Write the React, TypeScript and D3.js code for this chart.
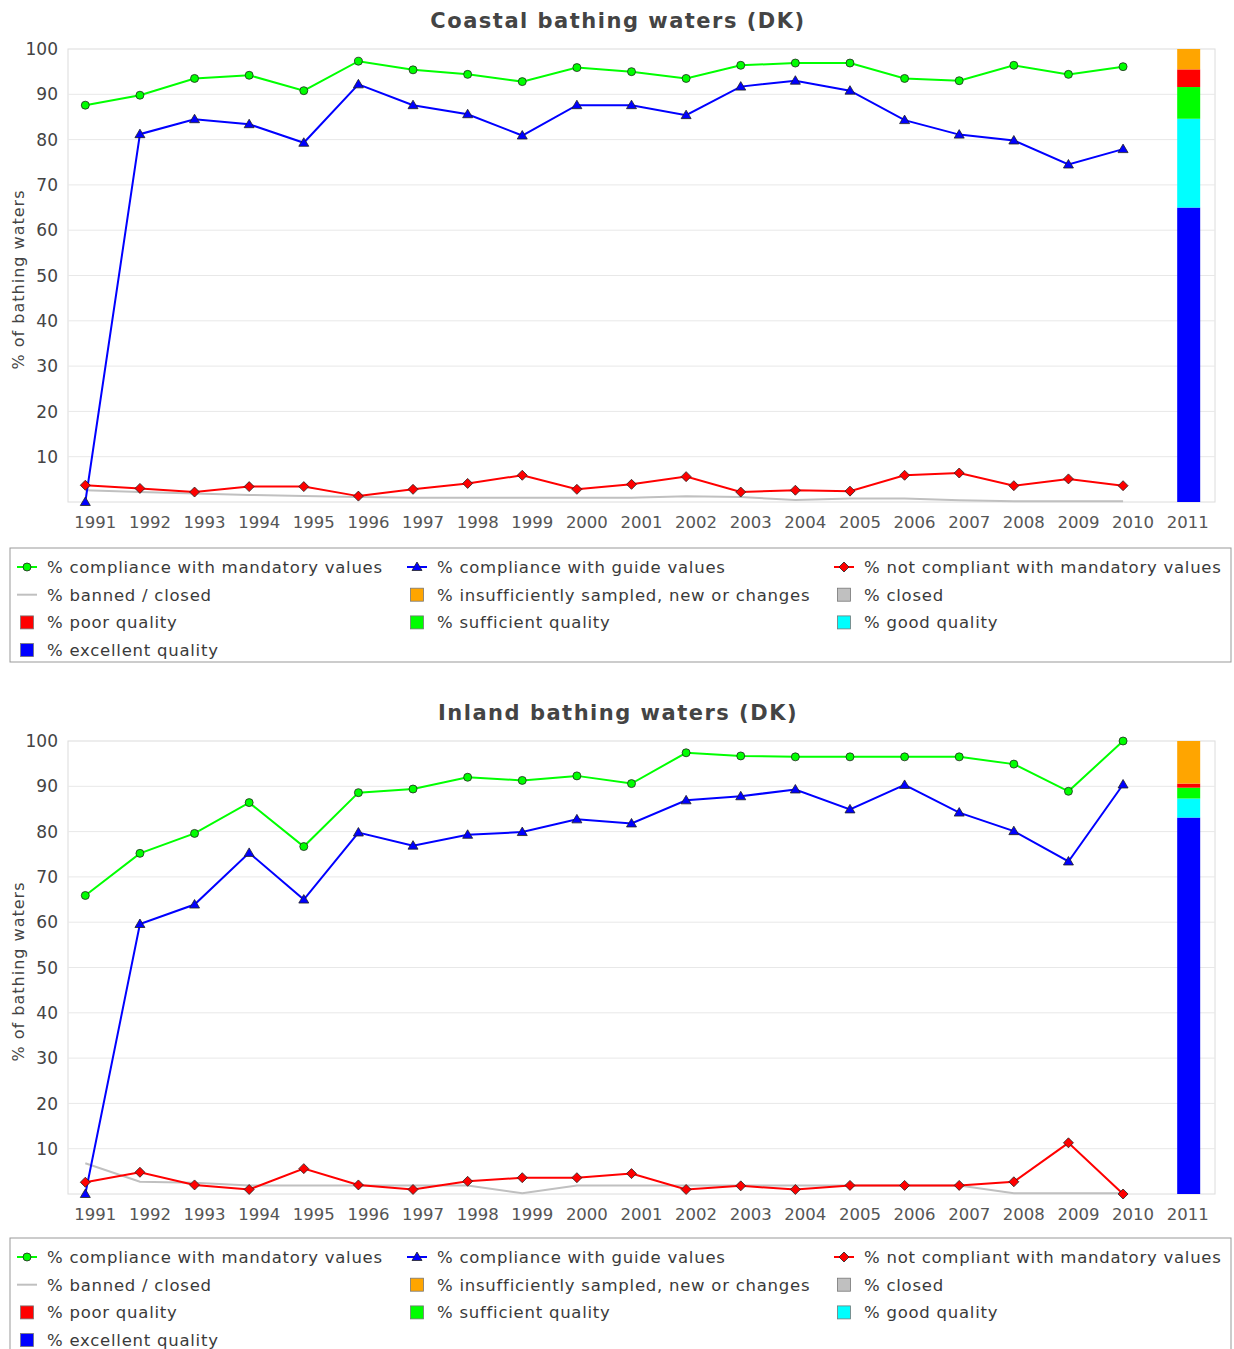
import React from "react";
import * as d3 from "d3";

const YEARS = ["1991", "1992", "1993", "1994", "1995", "1996", "1997", "1998", "1999", "2000",
	"2001", "2002", "2003", "2004", "2005", "2006", "2007", "2008", "2009", "2010"];
const BAR_YEAR = "2011";
const Y_TICKS = [10, 20, 30, 40, 50, 60, 70, 80, 90, 100];

// coastal
const coastalMandatory = [87.6, 89.8, 93.5, 94.2, 90.8, 97.3, 95.4, 94.4, 92.8, 95.9,
	95.0, 93.5, 96.4, 96.9, 96.9, 93.5, 93.0, 96.4, 94.4, 96.1];
const coastalGuide = [0, 81.2, 84.5, 83.4, 79.3, 92.2, 87.6, 85.6, 80.9, 87.6,
	87.6, 85.4, 91.7, 93.0, 90.8, 84.3, 81.1, 79.8, 74.5, 77.9];
const coastalNotCompliant = [3.7, 3.0, 2.2, 3.4, 3.4, 1.3, 2.8, 4.1, 5.9, 2.8,
	3.9, 5.6, 2.2, 2.6, 2.4, 5.9, 6.4, 3.6, 5.1, 3.6];
const coastalBanned = [2.6, 2.2, 1.85, 1.55, 1.3, 1.1, 0.95, 0.95, 0.95, 0.95,
	0.95, 1.25, 1.1, 0.45, 0.75, 0.75, 0.4, 0.15, 0.15, 0.15];
const coastal2011 = { excellent: 65.0, good: 19.6, sufficient: 7.0, poor: 3.9, closed: 0, insufficient: 4.5 };

// inland
const inlandMandatory = [65.9, 75.2, 79.6, 86.4, 76.7, 88.6, 89.4, 92.0, 91.3, 92.3,
	90.6, 97.4, 96.7, 96.5, 96.5, 96.5, 96.5, 94.9, 88.9, 100];
const inlandGuide = [0, 59.6, 63.9, 75.3, 65.0, 79.8, 76.9, 79.3, 79.9, 82.7,
	81.8, 86.9, 87.8, 89.3, 84.9, 90.3, 84.2, 80.1, 73.4, 90.4];
const inlandNotCompliant = [2.6, 4.8, 2.0, 1.0, 5.6, 2.0, 1.0, 2.8, 3.6, 3.6,
	4.5, 1.0, 1.8, 1.0, 1.9, 1.9, 1.9, 2.7, 11.3, 0];
const inlandBanned = [6.8, 2.7, 2.5, 1.9, 1.9, 1.9, 1.9, 1.9, 0.15, 1.9,
	1.9, 1.9, 1.9, 1.9, 1.9, 1.9, 1.9, 0.15, 0.15, 0.15];
const inland2011 = { excellent: 83.1, good: 4.2, sufficient: 2.4, poor: 0.9, closed: 0, insufficient: 9.4 };

const STACK_KEYS = ["excellent", "good", "sufficient", "poor", "closed", "insufficient"];
const STACK_COLORS: Record<string, string> = {
	excellent: "#0000ff", good: "#00ffff", sufficient: "#00ff00",
	poor: "#ff0000", closed: "#c0c0c0", insufficient: "#ffa500",
};

const W = 1234;
const CHART_H = 692;
const PLOT = { left: 68, right: 1215, top: 49, bottom: 502 };
const POINT_SHIFT = -10;
const FONT = "'DejaVu Sans', Verdana, sans-serif";
const TEXT = "#444";

const Marker = ({ kind, x, y }: { kind: string; x: number; y: number }) => {
	if (kind === "circle") {
		return <circle cx={x} cy={y} r={4} fill="#00ff00" stroke="#222" strokeWidth={0.8} />;
	}
	if (kind === "triangle") {
		return <path d={`M${x},${y - 5}L${x + 5},${y + 3.5}L${x - 5},${y + 3.5}Z`} fill="#0000ff" stroke="#222" strokeWidth={0.8} />;
	}
	if (kind === "diamond") {
		return <path d={`M${x},${y - 5}L${x + 5},${y}L${x},${y + 5}L${x - 5},${y}Z`} fill="#ff0000" stroke="#222" strokeWidth={0.8} />;
	}
	return null;
};

const LEGEND = [
	{ label: "% compliance with mandatory values", type: "line", color: "#00ff00", marker: "circle" },
	{ label: "% compliance with guide values", type: "line", color: "#0000ff", marker: "triangle" },
	{ label: "% not compliant with mandatory values", type: "line", color: "#ff0000", marker: "diamond" },
	{ label: "% banned / closed", type: "line", color: "#c0c0c0", marker: "" },
	{ label: "% insufficiently sampled, new or changes", type: "box", color: "#ffa500", marker: "" },
	{ label: "% closed", type: "box", color: "#c0c0c0", marker: "" },
	{ label: "% poor quality", type: "box", color: "#ff0000", marker: "" },
	{ label: "% sufficient quality", type: "box", color: "#00ff00", marker: "" },
	{ label: "% good quality", type: "box", color: "#00ffff", marker: "" },
	{ label: "% excellent quality", type: "box", color: "#0000ff", marker: "" },
];
const LEGEND_COLS = [27, 417, 844];

type ChartProps = {
	title: string;
	offsetY: number;
	legendTop: number;
	mandatory: number[];
	guide: number[];
	notCompliant: number[];
	banned: number[];
	bar: Record<string, number>;
};

const Chart = ({ title, offsetY, legendTop, mandatory, guide, notCompliant, banned, bar }: ChartProps) => {
	const xScale = d3.scaleBand().domain([...YEARS, BAR_YEAR]).range([PLOT.left, PLOT.right]).padding(0);
	const yScale = d3.scaleLinear().domain([0, 100]).range([PLOT.bottom, PLOT.top]);
	const cx = (yr: string) => (xScale(yr) ?? 0) + xScale.bandwidth() / 2;
	const px = (i: number) => cx(YEARS[i]) + POINT_SHIFT;

	const line = d3.line<number>().x((_, i) => px(i)).y((d) => yScale(d));

	const series = [
		{ values: banned, color: "#c0c0c0", marker: "" },
		{ values: mandatory, color: "#00ff00", marker: "circle" },
		{ values: guide, color: "#0000ff", marker: "triangle" },
		{ values: notCompliant, color: "#ff0000", marker: "diamond" },
	];

	const stacked = d3.stack<Record<string, number>>().keys(STACK_KEYS)([bar]);
	const barW = 23;
	const barX = cx(BAR_YEAR) + 1 - barW / 2;

	const rowH = 27.7;

	return (
		<g transform={`translate(0,${offsetY})`}>
			<text x={618} y={28} textAnchor="middle" fontFamily={FONT} fontSize={21} fontWeight="bold" fill={TEXT} letterSpacing={1.5}>
				{title}
			</text>
			<rect x={PLOT.left} y={PLOT.top} width={PLOT.right - PLOT.left} height={PLOT.bottom - PLOT.top} fill="#fff" stroke="#dcdcdc" />
			{Y_TICKS.map((t) => (
				<g key={t}>
					{t < 100 && <line x1={PLOT.left} x2={PLOT.right} y1={yScale(t)} y2={yScale(t)} stroke="#e8e8e8" strokeWidth={1} />}
					<text x={58} y={yScale(t)} dy="0.36em" textAnchor="end" fontFamily={FONT} fontSize={17} fill={TEXT}>
						{t}
					</text>
				</g>
			))}
			<text transform={`translate(24,${(PLOT.top + PLOT.bottom) / 2 + 4}) rotate(-90)`} textAnchor="middle" fontFamily={FONT} fontSize={16} fill={TEXT} letterSpacing={1}>
				% of bathing waters
			</text>
			{[...YEARS, BAR_YEAR].map((yr) => (
				<text key={yr} x={cx(yr)} y={PLOT.bottom + 20} dy="0.36em" textAnchor="middle" fontFamily={FONT} fontSize={16.5} fill="#555">
					{yr}
				</text>
			))}
			{stacked.map((s) => (
				<rect key={s.key} x={barX} width={barW} y={yScale(s[0][1])} height={yScale(s[0][0]) - yScale(s[0][1])} fill={STACK_COLORS[s.key]} />
			))}
			{series.map((s, si) => (
				<g key={si}>
					<path d={line(s.values) ?? ""} fill="none" stroke={s.color} strokeWidth={2} />
					{s.marker && s.values.map((v, i) => <Marker key={i} kind={s.marker} x={px(i)} y={yScale(v)} />)}
				</g>
			))}
			<rect x={10} y={legendTop} width={1221} height={114} fill="#fff" stroke="#999" />
			{LEGEND.map((item, i) => {
				const col = i % 3;
				const row = Math.floor(i / 3);
				const x = LEGEND_COLS[col];
				const y = legendTop + 19 + row * rowH;
				return (
					<g key={item.label}>
						{item.type === "line" ? (
							<g>
								<line x1={x - 10} x2={x + 10} y1={y} y2={y} stroke={item.color} strokeWidth={2} />
								{item.marker && <Marker kind={item.marker} x={x} y={y} />}
							</g>
						) : (
							<rect x={x - 6.5} y={y - 6.5} width={13} height={13} fill={item.color} stroke="#777" strokeWidth={0.8} />
						)}
						<text x={x + 20} y={y} dy="0.36em" fontFamily={FONT} fontSize={16.5} fill="#3a3a3a" letterSpacing={0.75}>
							{item.label}
						</text>
					</g>
				);
			})}
		</g>
	);
};

export default function App() {
	return (
		<svg width={W} height={1349} style={{ position: "absolute", left: 0, top: 0, background: "#fff" }}>
			<Chart title="Coastal bathing waters (DK)" offsetY={0} legendTop={548} mandatory={coastalMandatory} guide={coastalGuide}
				notCompliant={coastalNotCompliant} banned={coastalBanned} bar={coastal2011} />
			<Chart title="Inland bathing waters (DK)" offsetY={CHART_H} legendTop={546} mandatory={inlandMandatory} guide={inlandGuide}
				notCompliant={inlandNotCompliant} banned={inlandBanned} bar={inland2011} />
		</svg>
	);
}
